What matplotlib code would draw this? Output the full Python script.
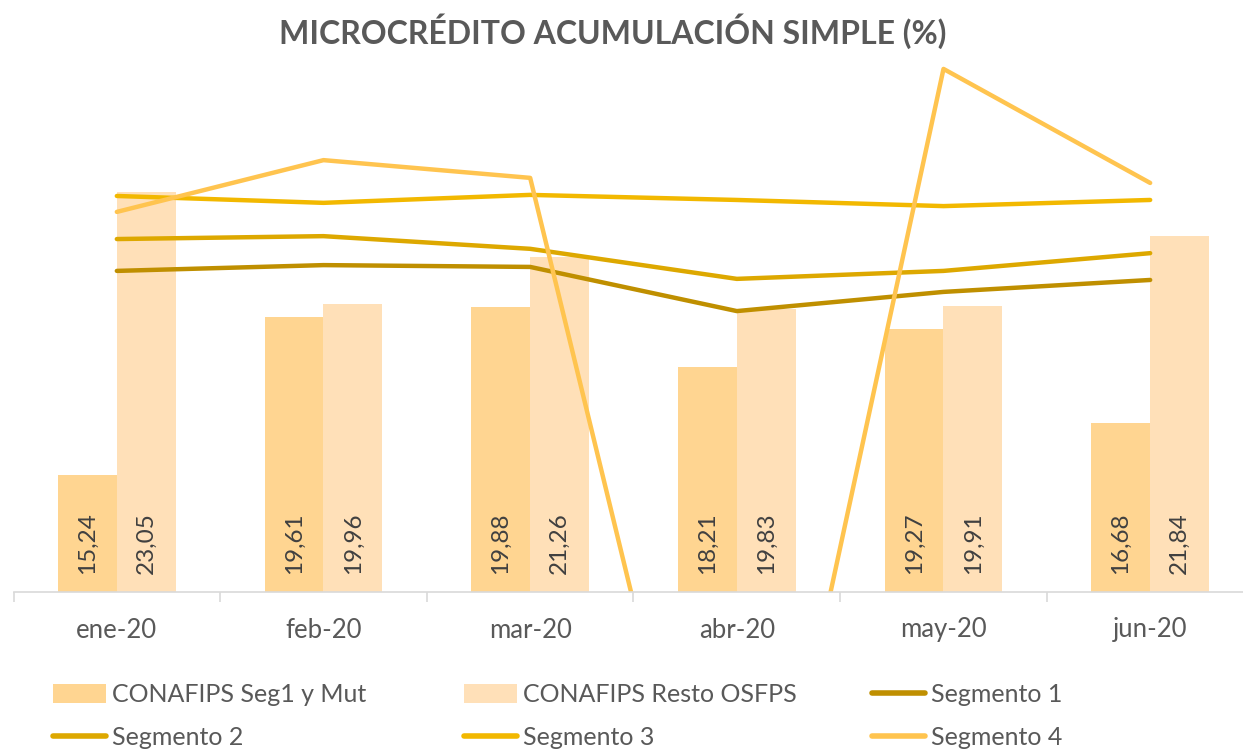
import matplotlib
matplotlib.use("Agg")
import matplotlib.pyplot as plt
import matplotlib.transforms as mtrans
from matplotlib.patches import Patch
from matplotlib.lines import Line2D
import numpy as np

plt.rcParams['font.family'] = ['Lato', 'DejaVu Sans']

categories = ["ene-20", "feb-20", "mar-20", "abr-20", "may-20", "jun-20"]
conafips_seg1 = [15.24, 19.61, 19.88, 18.21, 19.27, 16.68]
conafips_resto = [23.05, 19.96, 21.26, 19.83, 19.91, 21.84]
segmento1 = [20.87, 21.03, 20.98, 19.76, 20.29, 20.62]
segmento2 = [21.75, 21.83, 21.48, 20.65, 20.87, 21.36]
segmento3 = [22.94, 22.75, 22.97, 22.83, 22.66, 22.83]
segmento4 = [22.50, 23.93, 23.44, 0.0, 26.45, 23.30]

c_bar1 = "#FFD591"
c_bar2 = "#FFE0B8"
c_s1 = "#BF8F00"
c_s2 = "#DDA800"
c_s3 = "#F2B800"
c_s4 = "#FFC44F"
txt = "#595959"

W, H = 1243, 749
fig = plt.figure(figsize=(W / 100, H / 100), dpi=100)
ymin, ymax = 12, 27
ax = fig.add_axes([13.5 / W, (H - 592) / H, 1240 / W, 15 * 36.2 / H])
ax.set_xlim(-0.5, 5.5)
ax.set_ylim(ymin, ymax)

x = np.arange(len(categories))
bw = 0.285
b1 = ax.bar(x - bw / 2, conafips_seg1, bw, color=c_bar1, zorder=1)
b2 = ax.bar(x + bw / 2, conafips_resto, bw, color=c_bar2, zorder=1)

for bars, vals in ((b1, conafips_seg1), (b2, conafips_resto)):
    for r, v in zip(bars, vals):
        ax.annotate(f"{v:.2f}".replace(".", ","),
                    (r.get_x() + r.get_width() / 2, ymin),
                    xytext=(0, 18), textcoords="offset pixels",
                    rotation=90, ha="center", va="bottom",
                    fontsize=17.5, color="#404040", zorder=3)

lw = 3.2
for vals, c in ((segmento1, c_s1), (segmento2, c_s2), (segmento3, c_s3), (segmento4, c_s4)):
    ax.plot(x, vals, color=c, lw=lw, zorder=2, solid_joinstyle="round",
            solid_capstyle="round")

for s in ("top", "right", "left"):
    ax.spines[s].set_visible(False)
ax.spines["bottom"].set_color("#D9D9D9")
ax.spines["bottom"].set_linewidth(1.2)
ax.set_yticks([])
ax.set_xticks(np.arange(-0.5, 6.0, 1.0))
ax.set_xticklabels([])
ax.tick_params(axis="x", length=7, color="#D9D9D9", width=1.2)
off = mtrans.ScaledTranslation(0, -38 / 100, fig.dpi_scale_trans)
for i, c in enumerate(categories):
    ax.text(i, ymin, c, transform=ax.transData + off, ha="center", va="center",
            fontsize=18.5, color=txt)

fig.text(613 / W, 1 - 31 / H, "MICROCRÉDITO ACUMULACIÓN SIMPLE (%)",
         ha="center", va="center", fontsize=23, fontweight="bold", color=txt)

col_items = [
    [Patch(facecolor=c_bar1, label="CONAFIPS Seg1 y Mut"),
     Line2D([], [], color=c_s2, lw=4, label="Segmento 2", solid_capstyle="round")],
    [Patch(facecolor=c_bar2, label="CONAFIPS Resto OSFPS"),
     Line2D([], [], color=c_s3, lw=4, label="Segmento 3", solid_capstyle="round")],
    [Line2D([], [], color=c_s1, lw=4, label="Segmento 1", solid_capstyle="round"),
     Line2D([], [], color=c_s4, lw=4, label="Segmento 4", solid_capstyle="round")],
]
col_x = [53, 464, 872]
for items, cx in zip(col_items, col_x):
    fig.legend(handles=items, ncol=1, loc="center left",
               bbox_to_anchor=(cx / W, 1 - 716 / H), frameon=False,
               fontsize=18, labelcolor=txt, handlelength=2.1, handleheight=0.8,
               handletextpad=0.25, labelspacing=0.8, borderpad=0,
               borderaxespad=0)

fig.savefig("out.png", dpi=100)
